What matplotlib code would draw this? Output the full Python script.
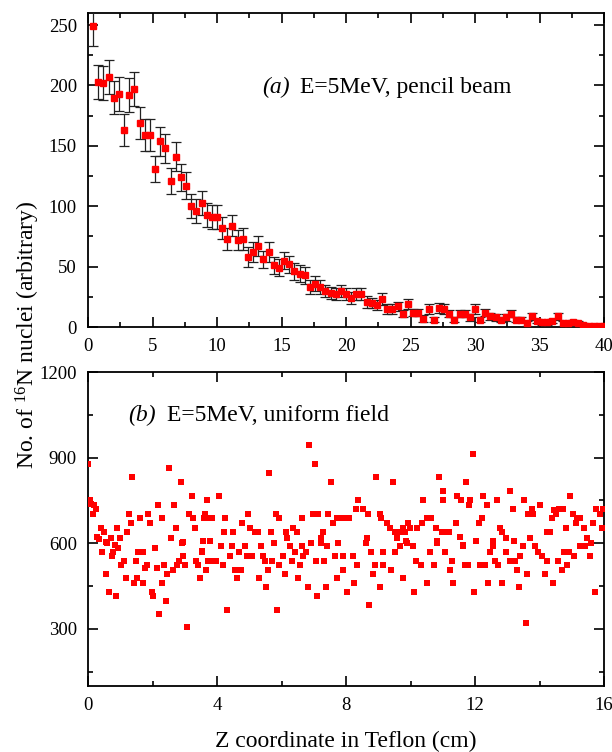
import numpy as np
import matplotlib
matplotlib.use("Agg")
import matplotlib.pyplot as plt
from matplotlib.ticker import MultipleLocator

plt.rcParams['font.family'] = ['Liberation Serif', 'DejaVu Serif']
plt.rcParams['mathtext.fontset'] = 'custom'
plt.rcParams['mathtext.rm'] = 'Liberation Serif'
plt.rcParams['mathtext.it'] = 'Liberation Serif:italic'

# ---------------- panel (a): pencil beam, 0..40 cm ----------------
depth_a = np.round(np.arange(1, 101) * 0.4, 1)
counts_a = [249, 203, 202, 207, 190, 193, 163, 192, 197, 169,
            159, 159, 131, 154, 148, 121, 141, 124, 117, 100,
            96, 103, 93, 91, 91, 82, 73, 84, 72, 73,
            58, 62, 67, 56, 62, 51, 49, 55, 52, 46,
            44, 43, 33, 36, 33, 30, 28, 27, 30, 27,
            24, 27, 27, 21, 20, 18, 23, 15, 15, 17,
            11, 19, 12, 12, 7, 15, 6, 16, 15, 11,
            6, 11, 11, 8, 15, 6, 12, 9, 8, 6,
            8, 11, 6, 6, 3, 9, 5, 4, 4, 5,
            9, 3, 3, 4, 3, 2, 1, 1, 1, 0.5]
errors_a = [16, 14, 14, 14, 14, 14, 13, 14, 14, 13,
            13, 13, 11, 12, 12, 11, 12, 11, 11, 10,
            10, 10, 10, 10, 10, 9, 9, 9, 8, 9,
            8, 8, 8, 7, 8, 7, 7, 7, 7, 7,
            7, 7, 6, 6, 6, 5, 5, 5, 5, 5,
            5, 5, 5, 5, 4, 4, 5, 4, 4, 4,
            3, 4, 3, 3, 3, 4, 2, 4, 4, 3,
            2, 3, 3, 3, 4, 2, 3, 3, 3, 2,
            3, 3, 2, 2, 2, 3, 2, 2, 2, 2,
            3, 2, 2, 2, 2, 1, 1, 1, 1, 1]

# ---------------- panel (b): uniform field, 0..16 cm ----------------
depth_b = [0.00, 0.05, 0.10, 0.14, 0.20, 0.25, 0.29, 0.35, 0.40, 0.42, 0.49, 0.55, 0.56, 0.58,
           0.66, 0.72, 0.73, 0.79, 0.85, 0.87, 0.90, 0.93, 1.00, 1.01, 1.12, 1.18, 1.20, 1.27,
           1.32, 1.36, 1.43, 1.49, 1.51, 1.56, 1.61, 1.70, 1.72, 1.78, 1.82, 1.87, 1.92, 1.98,
           2.03, 2.08, 2.13, 2.18, 2.21, 2.28, 2.31, 2.36, 2.42, 2.46, 2.52, 2.56, 2.63, 2.67,
           2.73, 2.75, 2.82, 2.87, 2.90, 2.94, 2.96, 3.02, 3.08, 3.14, 3.22, 3.27, 3.32, 3.35,
           3.42, 3.47, 3.52, 3.53, 3.56, 3.60, 3.62, 3.66, 3.70, 3.73, 3.73, 3.78, 3.85, 3.89,
           3.97, 4.07, 4.11, 4.18, 4.22, 4.25, 4.32, 4.40, 4.48, 4.51, 4.56, 4.63, 4.69, 4.73,
           4.79, 4.87, 4.92, 4.97, 5.02, 5.07, 5.18, 5.28, 5.31, 5.35, 5.42, 5.49, 5.52, 5.59,
           5.62, 5.66, 5.69, 5.77, 5.83, 5.87, 5.93, 5.93, 6.04, 6.12, 6.14, 6.18, 6.26, 6.33,
           6.37, 6.42, 6.49, 6.52, 6.57, 6.63, 6.63, 6.68, 6.76, 6.83, 6.86, 6.93, 6.99, 7.03,
           7.07, 7.11, 7.14, 7.21, 7.21, 7.28, 7.31, 7.38, 7.42, 7.45, 7.53, 7.61, 7.66, 7.71,
           7.71, 7.76, 7.81, 7.90, 7.92, 8.00, 8.02, 8.08, 8.23, 8.25, 8.31, 8.33, 8.38, 8.52,
           8.62, 8.64, 8.69, 8.72, 8.76, 8.83, 8.90, 8.93, 9.05, 9.05, 9.10, 9.14, 9.14, 9.26,
           9.35, 9.39, 9.45, 9.52, 9.52, 9.57, 9.67, 9.68, 9.78, 9.78, 9.83, 9.86, 9.88, 9.93,
           9.98, 10.09, 10.11, 10.17, 10.19, 10.32, 10.35, 10.38, 10.50, 10.52, 10.62, 10.63,
           10.73, 10.79, 10.83, 10.83, 10.89, 10.97, 11.00, 11.02, 11.07, 11.07, 11.20, 11.23,
           11.28, 11.31, 11.41, 11.45, 11.53, 11.58, 11.62, 11.62, 11.69, 11.72, 11.79, 11.82,
           11.86, 11.93, 11.97, 12.03, 12.13, 12.15, 12.21, 12.26, 12.31, 12.38, 12.41, 12.46,
           12.55, 12.55, 12.62, 12.67, 12.72, 12.77, 12.83, 12.83, 12.96, 12.97, 13.07, 13.09,
           13.19, 13.21, 13.24, 13.31, 13.37, 13.41, 13.48, 13.52, 13.58, 13.62, 13.65, 13.72,
           13.78, 13.81, 13.86, 13.96, 14.01, 14.07, 14.17, 14.22, 14.22, 14.34, 14.40, 14.43,
           14.44, 14.52, 14.58, 14.62, 14.69, 14.73, 14.76, 14.81, 14.86, 14.92, 14.96, 15.03,
           15.07, 15.13, 15.15, 15.25, 15.26, 15.38, 15.41, 15.46, 15.57, 15.59, 15.67, 15.72,
           15.75, 15.88, 15.93, 15.98]
counts_b = [879, 752, 738, 703, 735, 720, 623, 615, 653, 571, 638, 603, 493, 600,
            431, 620, 557, 571, 594, 416, 653, 585, 620, 523, 539, 477, 638, 703,
            670, 832, 462, 539, 479, 571, 687, 571, 462, 512, 525, 703, 670, 431,
            416, 585, 512, 734, 351, 462, 687, 523, 399, 493, 864, 620, 508, 734,
            653, 523, 539, 814, 600, 605, 557, 523, 305, 703, 767, 687, 653, 539,
            523, 477, 574, 571, 608, 687, 703, 508, 750, 539, 687, 608, 687, 539,
            539, 767, 589, 523, 638, 687, 367, 555, 589, 638, 508, 477, 571, 508,
            670, 589, 555, 703, 655, 555, 638, 638, 477, 589, 555, 539, 447, 508,
            847, 638, 539, 600, 703, 367, 687, 523, 555, 493, 638, 620, 589, 539,
            655, 571, 638, 477, 523, 687, 589, 555, 571, 447, 944, 600, 703, 879,
            539, 416, 703, 620, 600, 638, 539, 447, 589, 703, 814, 670, 555, 687,
            477, 600, 687, 508, 555, 687, 431, 687, 555, 462, 720, 523, 750, 720,
            600, 620, 703, 385, 571, 493, 523, 832, 703, 447, 687, 571, 523, 670,
            655, 508, 814, 638, 571, 620, 589, 638, 655, 477, 638, 608, 600, 670,
            655, 589, 431, 539, 655, 523, 670, 750, 687, 462, 571, 687,
            523, 655, 608, 600, 832, 638, 750, 783, 638, 571, 638, 508,
            539, 462, 670, 767, 623, 750, 594, 589, 523, 814, 523, 734,
            750, 912, 431, 608, 670, 523, 687, 767, 523, 734, 462, 571,
            608, 589, 539, 750, 523, 655, 638, 462, 571, 620, 783, 539,
            720, 608, 539, 508, 447, 555, 589, 750, 321, 493, 703, 620,
            720, 703, 589, 571, 734, 555, 493, 638, 539, 638, 687, 462,
            717, 703, 539, 720, 508, 720, 571, 655, 523, 571, 767, 703,
            555, 670, 687, 687, 589, 655, 589, 620, 555, 600, 670, 431,
            720, 703, 655, 720]

# ---------------- figure ----------------
fig = plt.figure(figsize=(6.12, 7.52), dpi=100)
W, H = 612, 752
def rect(l, t, r, b):
    return [l / W, 1 - b / H, (r - l) / W, (b - t) / H]

ax1 = fig.add_axes(rect(88, 13, 604, 327))
ax2 = fig.add_axes(rect(88, 372, 604, 686))

red = '#ff0000'
ax1.errorbar(depth_a, counts_a, yerr=errors_a, fmt='s', color=red, ms=4.2,
             mec=red, ecolor='#222222', elinewidth=0.9, capsize=3.4, capthick=0.9, zorder=3)
ax2.scatter(depth_b, counts_b, marker='s', s=19, color=red, linewidths=0, zorder=3)

for ax in (ax1, ax2):
    for sp in ax.spines.values():
        sp.set_linewidth(1.3)
    ax.tick_params(which='both', direction='in', top=True, right=True, width=1.2,
                   labelsize=13.5)
    ax.tick_params(which='major', length=7)
    ax.tick_params(which='minor', length=3.6)
    ax.tick_params(axis='x', pad=8)
    ax.tick_params(axis='y', pad=8)

ax1.set_xlim(0, 40)
ax1.set_ylim(0, 260)
ax1.xaxis.set_major_locator(MultipleLocator(5))
ax1.xaxis.set_minor_locator(MultipleLocator(2.5))
ax1.yaxis.set_major_locator(MultipleLocator(50))
ax1.yaxis.set_minor_locator(MultipleLocator(25))

ax2.set_xlim(0, 16)
ax2.set_ylim(100, 1200)
ax2.set_xticks([0, 4, 8, 12, 16])
ax2.xaxis.set_minor_locator(MultipleLocator(2))
ax2.set_yticks([300, 600, 900, 1200])
ax2.set_yticks([150, 450, 750, 1050], minor=True)

ax1.text(0.337, 0.745, '(a)', style='italic', transform=ax1.transAxes,
         fontsize=17, ha='left', va='baseline')
ax1.text(0.411, 0.745, 'E=5MeV, pencil beam', transform=ax1.transAxes,
         fontsize=17, ha='left', va='baseline')
ax2.text(0.0775, 0.845, '(b)', style='italic', transform=ax2.transAxes,
         fontsize=17, ha='left', va='baseline')
ax2.text(0.153, 0.845, 'E=5MeV, uniform field', transform=ax2.transAxes,
         fontsize=17, ha='left', va='baseline')

fig.text(346 / W, 1 - 741 / H, 'Z coordinate in Teflon (cm)', fontsize=17,
         ha='center', va='center')
fig.text(28 / W, 1 - 335 / H, r'No. of $^{16}$N nuclei (arbitrary)', fontsize=17,
         ha='center', va='center', rotation=90)

fig.savefig('out.png', dpi=100)
